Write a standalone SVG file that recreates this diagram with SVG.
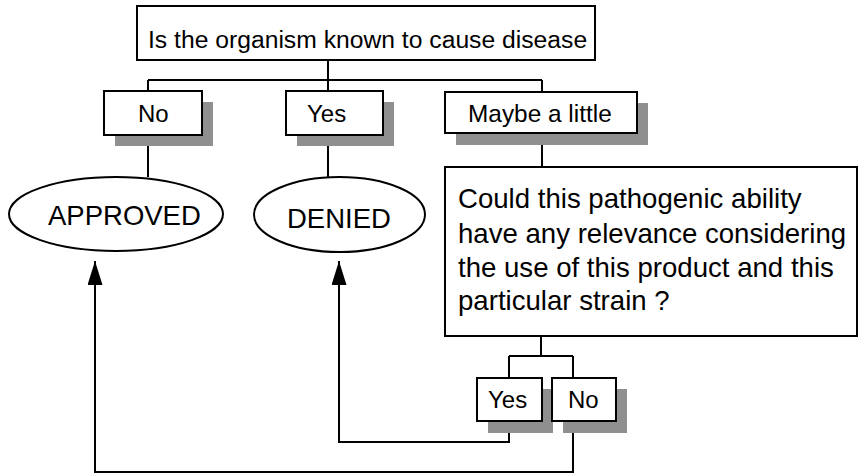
<svg xmlns="http://www.w3.org/2000/svg" width="860" height="474" viewBox="0 0 860 474">
<style>
  .box { fill: #ffffff; stroke: #000000; stroke-width: 2; }
  .shadow { fill: #8f8f8f; stroke: none; }
  .ell { fill: #ffffff; stroke: #000000; stroke-width: 2; }
  .t { font-family: "Liberation Sans", Arial, sans-serif; fill: #000000; }
  .conn { fill: none; stroke: #000000; stroke-width: 2; }
</style>
<defs>
  <marker id="arrow" markerUnits="userSpaceOnUse" markerWidth="24" markerHeight="15" refX="24" refY="7.5" orient="auto" viewBox="0 0 24 15">
    <path d="M0,0 L24,7.5 L0,15 Z" fill="#000000"/>
  </marker>
</defs>
<rect width="860" height="474" fill="#ffffff"/>

<g id="connectors">
  <path class="conn" d="M328,60 V80 M148,80 H542 M148,80 V91 M328,80 V91 M542,80 V92"/>
  <path class="conn" d="M148,135 V177 M328,135 V177 M542,133 V167"/>
  <path class="conn" d="M541,336 V356 M509,356 H573 M509,356 V378 M573,356 V378"/>
  <path class="conn" d="M509,421 V442 H339 V261" marker-end="url(#arrow)"/>
  <path class="conn" d="M573,421 V472 H95 V261" marker-end="url(#arrow)"/>
</g>

<g id="q1">
  <rect class="box" x="137" y="6" width="458" height="54"/>
  <text class="t" x="148" y="48" font-size="24.7">Is the organism known to cause disease</text>
</g>

<g id="no1">
  <rect class="shadow" x="115" y="102" width="98" height="44"/>
  <rect class="box" x="104" y="91" width="98" height="44"/>
  <text class="t" x="138" y="122" font-size="24">No</text>
</g>

<g id="yes1">
  <rect class="shadow" x="297" y="102" width="97" height="44"/>
  <rect class="box" x="286" y="91" width="97" height="44"/>
  <text class="t" x="307" y="122" font-size="24">Yes</text>
</g>

<g id="maybe">
  <rect class="shadow" x="456" y="103" width="192" height="42"/>
  <rect class="box" x="445" y="92" width="192" height="41"/>
  <text class="t" x="468" y="122" font-size="24.4">Maybe a little</text>
</g>

<g id="approved">
  <ellipse class="ell" cx="116" cy="214" rx="107" ry="37"/>
  <text class="t" x="48" y="225" font-size="27.5">APPROVED</text>
</g>

<g id="denied">
  <ellipse class="ell" cx="339.5" cy="214.5" rx="85.5" ry="37.5"/>
  <text class="t" x="287" y="228" font-size="27.5">DENIED</text>
</g>

<g id="q2">
  <rect class="box" x="445" y="167" width="412" height="169"/>
  <text class="t" font-size="27.6">
    <tspan x="458" y="208">Could this pathogenic ability</tspan>
    <tspan x="458" y="243">have any relevance considering</tspan>
    <tspan x="458" y="277">the use of this product and this</tspan>
    <tspan x="458" y="310">particular strain ?</tspan>
  </text>
</g>

<g id="yes2">
  <rect class="shadow" x="488" y="389" width="65" height="44"/>
  <rect class="box" x="477" y="378" width="65" height="43"/>
  <text class="t" x="488" y="408" font-size="24">Yes</text>
</g>

<g id="no2">
  <rect class="shadow" x="563" y="389" width="64" height="44"/>
  <rect class="box" x="552" y="378" width="64" height="43"/>
  <text class="t" x="568" y="408" font-size="24">No</text>
</g>
</svg>
